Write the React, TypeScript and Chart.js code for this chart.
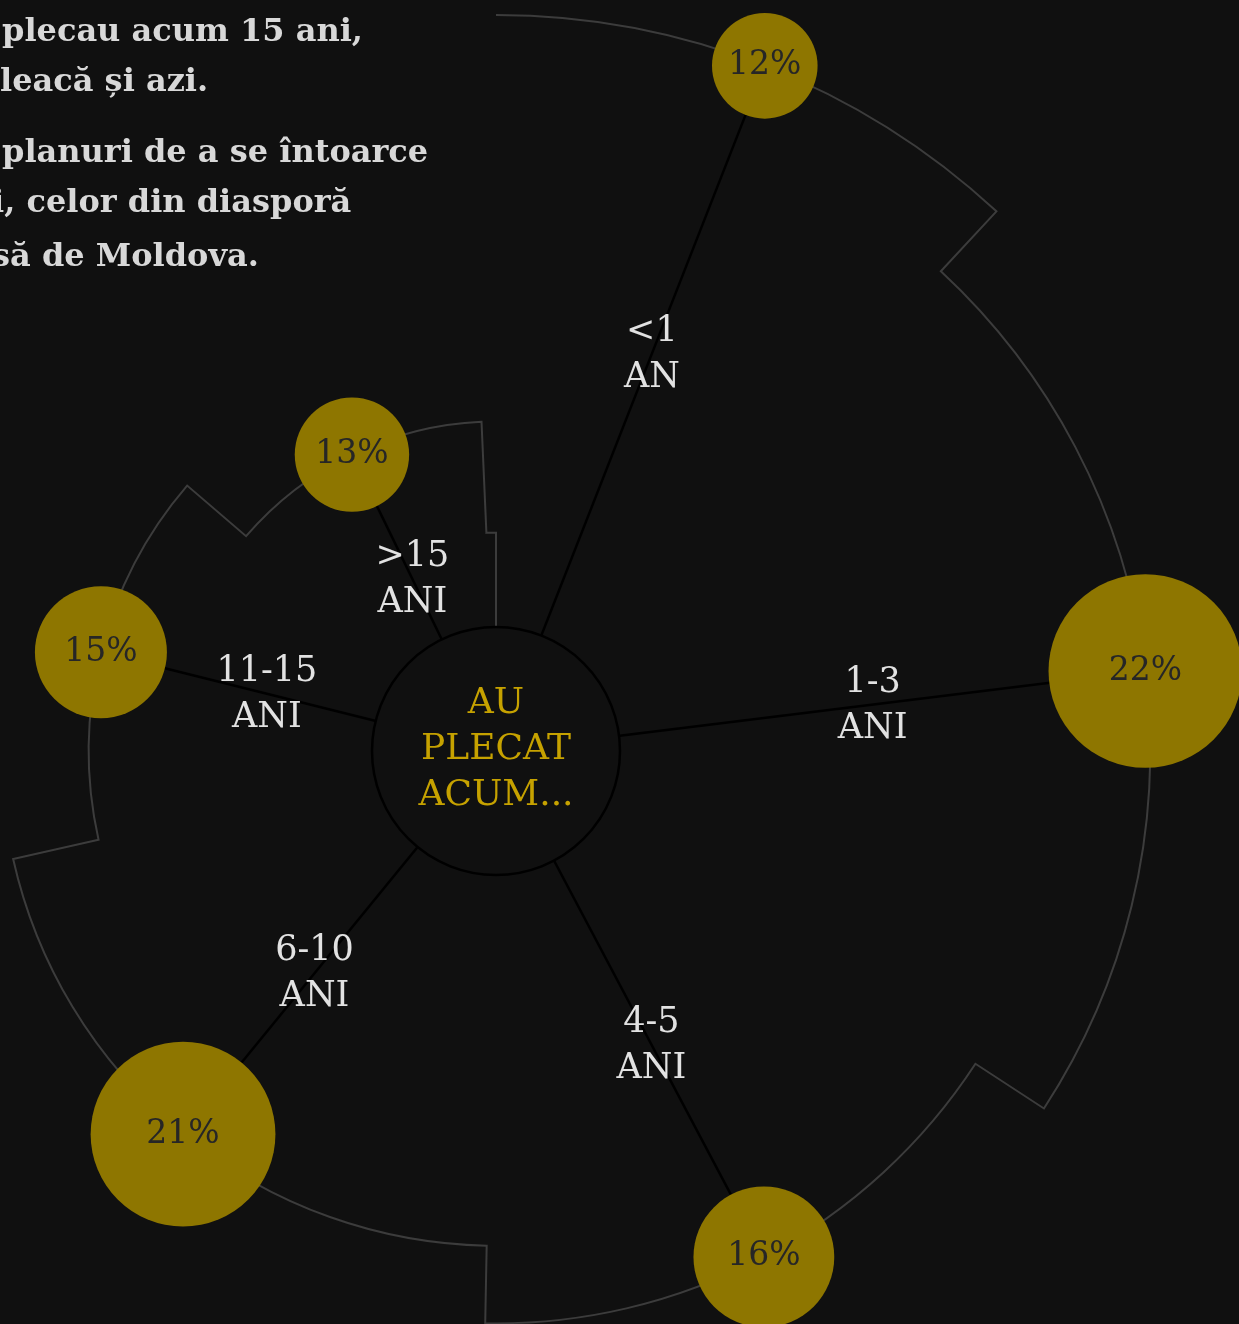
import React, { useEffect, useRef } from 'react';
import { Chart, registerables } from 'chart.js';

Chart.register(...registerables);

// ---- data ----
const categoryLines: string[][] = [
  ['<1', 'AN'],
  ['1-3', 'ANI'],
  ['4-5', 'ANI'],
  ['6-10', 'ANI'],
  ['11-15', 'ANI'],
  ['>15', 'ANI'],
];
// shares (percent); labels show them rounded
const sharePct = [11.9, 22.3, 16.1, 21.2, 14.8, 13.0];
const remainderPct = 0.7; // unlabelled rest
const spiralLevels = [9, 8, 7, 6.05, 4.98, 4.03];
const remainderLevel = 2.67;
const hubLines = ['AU', 'PLECAT', 'ACUM...'];
const introLines = [
  'plecau acum 15 ani,',
  'leacă și azi.',
  'planuri de a se întoarce',
  'i, celor din diasporă',
  'să de Moldova.',
];

// ---- style ----
const BG = '#101010';
const OUTLINE = '#3c3c3c';
const GOLD = '#8e7600';
const HUB_TEXT = '#c6a200';
const LABEL = '#e2e2e2';
const SERIF = '"DejaVu Serif", serif';
const HUB_R = 124;
const BUBBLE_PX_PER_PCT = 4.4;
const LABEL_FRAC = 0.58;
const PLOT = 1472;
const PAD = 100;
const CANVAS = PLOT + PAD * 2;

const spiralPlugin = {
  id: 'spiral',
  afterDatasetsDraw(chart: any) {
    const meta = chart.getDatasetMeta(0);
    const arcs = meta.data as any[];
    const ctx: CanvasRenderingContext2D = chart.ctx;
    const scale = chart.scales.r;
    const cx = scale.xCenter;
    const cy = scale.yCenter;
    ctx.save();

    // stepped outline
    ctx.beginPath();
    arcs.forEach((a, i) => {
      const { startAngle, endAngle, outerRadius } = a;
      if (i === 0) ctx.moveTo(cx + outerRadius * Math.cos(startAngle), cy + outerRadius * Math.sin(startAngle));
      ctx.arc(cx, cy, outerRadius, startAngle, endAngle);
      if (i < arcs.length - 1) {
        const nr = arcs[i + 1].outerRadius;
        ctx.lineTo(cx + nr * Math.cos(endAngle), cy + nr * Math.sin(endAngle));
      } else {
        ctx.lineTo(cx, cy);
      }
    });
    ctx.strokeStyle = OUTLINE;
    ctx.lineWidth = 2;
    ctx.lineJoin = 'miter';
    ctx.stroke();

    const pts = sharePct.map((p, i) => {
      const a = arcs[i];
      const mid = (a.startAngle + a.endAngle) / 2;
      return { mid, r: a.outerRadius, x: cx + a.outerRadius * Math.cos(mid), y: cy + a.outerRadius * Math.sin(mid), p };
    });

    // spokes
    ctx.strokeStyle = '#000';
    ctx.lineWidth = 2.5;
    pts.forEach((pt) => {
      ctx.beginPath();
      ctx.moveTo(cx, cy);
      ctx.lineTo(pt.x, pt.y);
      ctx.stroke();
    });

    // hub
    ctx.beginPath();
    ctx.arc(cx, cy, HUB_R, 0, Math.PI * 2);
    ctx.fillStyle = BG;
    ctx.fill();
    ctx.strokeStyle = '#000';
    ctx.lineWidth = 2.5;
    ctx.stroke();

    ctx.fillStyle = HUB_TEXT;
    ctx.font = `36px ${SERIF}`;
    ctx.textAlign = 'center';
    ctx.textBaseline = 'alphabetic';
    hubLines.forEach((t, i) => {
      ctx.fillText(t, cx, cy + (i - 1) * 46 + 8);
    });

    // category labels
    ctx.fillStyle = LABEL;
    ctx.font = `35px ${SERIF}`;
    ctx.textBaseline = 'middle';
    pts.forEach((pt, i) => {
      const d = pt.r * LABEL_FRAC;
      const lx = cx + d * Math.cos(pt.mid);
      const ly = cy + d * Math.sin(pt.mid);
      ctx.fillText(categoryLines[i][0], lx, ly - 22);
      ctx.fillText(categoryLines[i][1], lx, ly + 24);
    });

    // bubbles
    pts.forEach((pt) => {
      const shown = Math.round(pt.p);
      ctx.beginPath();
      ctx.arc(pt.x, pt.y, shown * BUBBLE_PX_PER_PCT, 0, Math.PI * 2);
      ctx.fillStyle = GOLD;
      ctx.fill();
      ctx.fillStyle = '#262626';
      ctx.font = `33px ${SERIF}`;
      ctx.fillText(`${shown}%`, pt.x, pt.y);
    });

    ctx.restore();
  },
};

export default function App() {
  const ref = useRef<HTMLCanvasElement>(null);
  useEffect(() => {
    const total = sharePct.reduce((s, v) => s + v, 0) + remainderPct;
    const angles = [...sharePct, remainderPct].map((p) => (p / total) * 360);
    const chart = new Chart(ref.current as HTMLCanvasElement, {
      type: 'polarArea',
      data: {
        labels: [...categoryLines.map((l) => l.join(' ')), ''],
        datasets: [
          {
            data: [...spiralLevels, remainderLevel],
            angle: angles as any,
            backgroundColor: 'rgba(0,0,0,0)',
            borderWidth: 0,
          } as any,
        ],
      },
      options: {
        responsive: false,
        animation: false,
        layout: { padding: PAD },
        plugins: { legend: { display: false }, tooltip: { enabled: false } },
        scales: {
          r: {
            display: false,
            min: 0,
            max: 9,
            startAngle: 0,
            ticks: { display: false },
            grid: { display: false },
            angleLines: { display: false },
            pointLabels: { display: false },
          },
        },
      },
      plugins: [spiralPlugin],
    });
    return () => chart.destroy();
  }, []);

  const introPos = [
    { left: 2, top: 42 },
    { left: 0, top: 92 },
    { left: 2, top: 163 },
    { left: -8, top: 213 },
    { left: -8, top: 267 },
  ];

  return (
    <div style={{ position: 'fixed', left: 0, top: 0, width: 1239, height: 1324, overflow: 'hidden', background: BG }}>
      <div style={{ position: 'absolute', left: 496 - CANVAS / 2, top: 751 - CANVAS / 2, width: CANVAS, height: CANVAS }}>
        <canvas ref={ref} width={CANVAS} height={CANVAS} style={{ display: 'block' }} />
      </div>
      {introLines.map((t, i) => (
        <div
          key={i}
          style={{
            position: 'absolute',
            left: introPos[i].left,
            top: introPos[i].top - 30,
            fontFamily: SERIF,
            fontWeight: 700,
            fontSize: 32,
            lineHeight: '37px',
            color: '#d8d8d8',
            whiteSpace: 'nowrap',
          }}
        >
          {t}
        </div>
      ))}
    </div>
  );
}
